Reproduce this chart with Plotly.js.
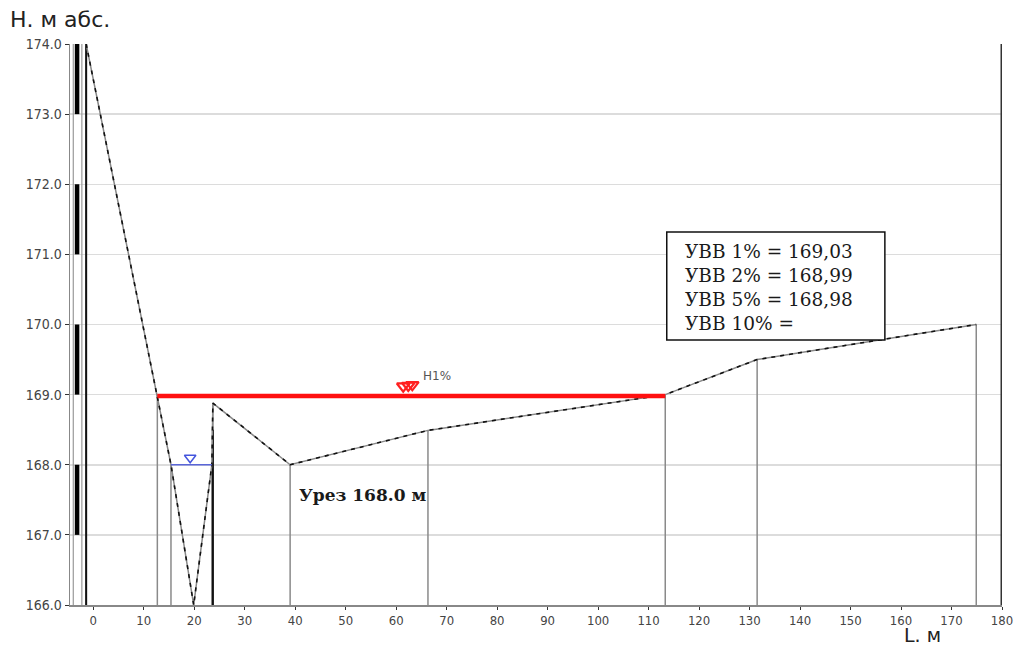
<!DOCTYPE html>
<html>
<head>
<meta charset="utf-8">
<script src="https://cdn.plot.ly/plotly-3.0.1.min.js"></script>
<style>html,body{margin:0;padding:0;background:#fff;}#chart{width:1021px;height:648px;}</style>
</head>
<body>
<div id="chart"></div>
<script>
// Cross-section profile (distance L, m; elevation H, m abs.)
const profileL = [-1.4, 12.7, 15.4, 19.9, 23.5, 23.7, 39.0, 66.3, 113.3, 131.5, 174.9];
const profileH = [174.0, 169.0, 168.0, 166.0, 168.0, 168.88, 168.0, 168.49, 169.0, 169.5, 170.0];
// Points whose drop line is drawn bold/black
const boldDropL = [-1.4, 23.7];
const boldDropH = [174.0, 168.5];

// Water edge (урез)
const waterEdgeLevel = 168.0;
const waterEdgeL = [15.4, 23.5];
const waterEdgeLabel = "Урез 168.0 м";

// Flood level line (H1%)
const floodLineL = [12.7, 113.3];
const floodLineLevel = 168.98;
const floodMarkL = [61.4, 62.4, 63.2];
const floodMarkH = [169.12, 169.13, 169.14];
const floodLabel = "H1%";

// High-water levels table
const uvvNames = ["УВВ 1%", "УВВ 2%", "УВВ 5%", "УВВ 10%"];
const uvvValues = ["169,03", "168,99", "168,98", ""];

const yTicks = [166, 167, 168, 169, 170, 171, 172, 173, 174];
const xTicks = [0, 10, 20, 30, 40, 50, 60, 70, 80, 90, 100, 110, 120, 130, 140, 150, 160, 170, 180];

const yMin = 166, yMax = 174;

// drop lines built from the profile
const dropX = [], dropY = [];
profileL.forEach((l, i) => { dropX.push(l, l, null); dropY.push(profileH[i], yMin, null); });
const boldX = [], boldY = [];
boldDropL.forEach((l, i) => { boldX.push(l, l, null); boldY.push(boldDropH[i], yMin, null); });

const traces = [
  {x: dropX, y: dropY, mode: 'lines', line: {color: '#8a8a8a', width: 1.5}, hoverinfo: 'skip'},
  {x: boldX, y: boldY, mode: 'lines', line: {color: '#111', width: 2}, hoverinfo: 'skip'},
  {x: profileL, y: profileH, mode: 'lines', line: {color: '#888', width: 1.5}, hoverinfo: 'skip'},
  {x: profileL, y: profileH, mode: 'lines', line: {color: '#111', width: 1.6, dash: '4px,5px'}, hoverinfo: 'skip'},
  {x: floodLineL, y: floodLineL.map(() => floodLineLevel), mode: 'lines', line: {color: '#ff1010', width: 4.5}, hoverinfo: 'skip'},
  {x: waterEdgeL, y: waterEdgeL.map(() => waterEdgeLevel), mode: 'lines', line: {color: '#5a66d8', width: 1.5}, hoverinfo: 'skip'},
  {x: [19.2], y: [168.1], mode: 'markers', marker: {symbol: 'triangle-down-open', size: 10, color: '#4455dd', line: {width: 1.5}}, hoverinfo: 'skip'},
  {x: floodMarkL, y: floodMarkH, mode: 'markers', marker: {symbol: 'triangle-down-open', size: 11, color: '#ff2020', line: {width: 2.2}}, hoverinfo: 'skip'}
];

// left scale bar segments, from tick values
const shapes = [];
for (let i = 0; i < yTicks.length - 1; i++) {
  if ((yMax - yTicks[i + 1]) % 2 === 0) {
    shapes.push({type: 'rect', xref: 'x', yref: 'y', x0: -3.65, x1: -2.75, y0: yTicks[i], y1: yTicks[i + 1], fillcolor: '#000', line: {width: 0}, layer: 'above'});
  }
}
shapes.push({type: 'line', xref: 'x', yref: 'y', x0: -3.95, x1: -3.95, y0: yMin, y1: yMax, line: {color: '#999', width: 1.2}});
shapes.push({type: 'line', xref: 'x', yref: 'y', x0: -2.25, x1: -2.25, y0: yMin, y1: yMax, line: {color: '#999', width: 1.2}});
shapes.push({type: 'line', xref: 'x', yref: 'y', x0: 180, x1: 180, y0: yMin, y1: yMax, line: {color: '#333', width: 3}, layer: 'above'});
// table box
shapes.push({type: 'rect', xref: 'x', yref: 'y', x0: 113.6, x1: 156.8, y0: 169.78, y1: 171.32, fillcolor: '#fff', line: {color: '#111', width: 1.5}, layer: 'above'});

const annotations = [
  {xref: 'paper', yref: 'paper', x: -0.0665, y: 1.043, xanchor: 'left', yanchor: 'middle', text: 'Н. м абс.', showarrow: false, font: {family: 'DejaVu Sans', size: 22, color: '#222'}},
  {xref: 'paper', yref: 'paper', x: 0.915, y: -0.0535, xanchor: 'center', yanchor: 'middle', text: 'L. м', showarrow: false, borderpad: 0, font: {family: 'DejaVu Sans', size: 19, color: '#222'}},
  {xref: 'x', yref: 'y', x: 40.4, y: 167.57, xanchor: 'left', yanchor: 'middle', text: '<b>' + waterEdgeLabel + '</b>', showarrow: false, font: {family: 'DejaVu Serif', size: 17, color: '#1a1a1a'}},
  {xref: 'x', yref: 'y', x: 65.0, y: 169.26, xanchor: 'left', yanchor: 'middle', text: floodLabel, showarrow: false, font: {family: 'DejaVu Sans', size: 12, color: '#555'}}
];
const lineY = [171.04, 170.70, 170.35, 170.01];
uvvNames.forEach((n, i) => {
  annotations.push({xref: 'x', yref: 'y', x: 116.8, y: lineY[i], xanchor: 'left', yanchor: 'middle',
    text: n + ' = ' + uvvValues[i], showarrow: false, font: {family: 'DejaVu Serif', size: 18.5, color: '#1a1a1a'}});
});

const layout = {
  width: 1021, height: 648,
  margin: {l: 70, r: 19, t: 44, b: 43},
  paper_bgcolor: '#fff', plot_bgcolor: '#fff',
  showlegend: false,
  xaxis: {range: [-4.6, 180], tickvals: xTicks, ticktext: xTicks.map(String), ticks: 'outside', ticklen: 3, tickcolor: '#333',
    showline: true, linecolor: '#888', linewidth: 1.5, showgrid: false, zeroline: false,
    tickfont: {family: 'DejaVu Sans Condensed', size: 13, color: '#444'}},
  yaxis: {range: [yMin, yMax], tickvals: yTicks, ticktext: yTicks.map(v => v.toFixed(1)), ticks: 'outside', ticklen: 4, tickcolor: '#333',
    showline: true, linecolor: '#888', linewidth: 1.5, showgrid: true, gridcolor: '#dcdcdc', gridwidth: 1.5, zeroline: false,
    tickfont: {family: 'DejaVu Sans Condensed', size: 14, color: '#444'}},
  shapes: shapes,
  annotations: annotations
};

Plotly.newPlot('chart', traces, layout, {displayModeBar: false, staticPlot: true});
</script>
</body>
</html>
